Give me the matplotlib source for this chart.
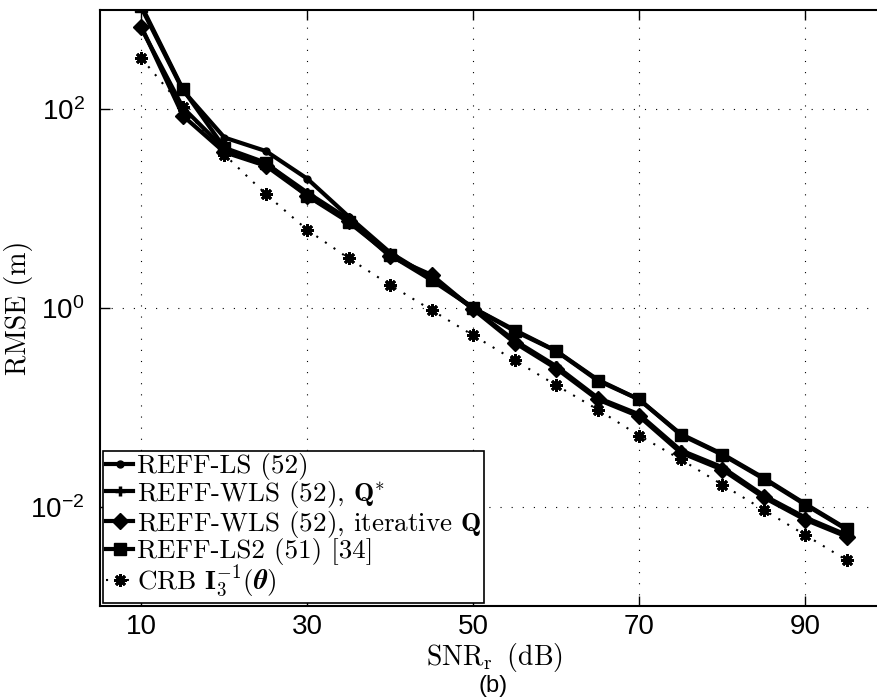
import matplotlib
matplotlib.use("Agg")
import matplotlib.pyplot as plt
from matplotlib.font_manager import FontProperties
from matplotlib.ticker import NullLocator

plt.rcParams['font.family'] = ['Liberation Sans', 'DejaVu Sans']
plt.rcParams['mathtext.fontset'] = 'custom'
plt.rcParams['mathtext.rm'] = 'Liberation Sans'
plt.rcParams['mathtext.it'] = 'Liberation Sans:italic'
plt.rcParams['mathtext.bf'] = 'Liberation Sans:bold'

# ---- data ----
snr = [10, 15, 20, 25, 30, 35, 40, 45, 50, 55, 60, 65, 70, 75, 80, 85, 90, 95]
reff_ls = [1050, 155, 52, 38, 20, 8.3, 3.6, 2.0, 1.0, 0.60, 0.37, 0.19, 0.12,
           0.054, 0.034, 0.0195, 0.0107, 0.0060]
reff_wls_q = [650, 104, 40, 28.5, 14.5, 7.8, 3.5, 2.0, 0.98, 0.47, 0.26, 0.125,
              0.085, 0.037, 0.025, 0.013, 0.0078, 0.0052]
reff_wls_iter = [676, 86, 37, 27, 13.5, 7.6, 3.3, 2.15, 0.97, 0.446, 0.246, 0.12,
                 0.081, 0.035, 0.0236, 0.0124, 0.0074, 0.0050]
reff_ls2 = [1100, 159, 41, 29, 13.4, 7.3, 3.4, 1.9, 1.0, 0.585, 0.368, 0.186,
            0.12, 0.053, 0.0334, 0.0191, 0.0105, 0.0059]
crb = [325, 105, 35, 14, 6.1, 3.16, 1.7, 0.95, 0.53, 0.297, 0.167, 0.095,
       0.052, 0.030, 0.0167, 0.0093, 0.0052, 0.0029]

labels = [r'REFF-LS (52)',
          r'REFF-WLS (52), $\mathbf{Q}^{*}$',
          r'REFF-WLS (52), iterative $\mathbf{Q}$',
          r'REFF-LS2 (51) [34]',
          r'CRB $\mathbf{I}_3^{-1}(\boldsymbol{\theta})$']
xticks = [10, 30, 50, 70, 90]
yticks = [1e-2, 1e0, 1e2]
yticklabels = [r'$10^{-2}$', r'$10^{0}$', r'$10^{2}$']

W, H = 877, 700
fig = plt.figure(figsize=(W / 100, H / 100), dpi=100)
ax = fig.add_axes([100 / W, 94 / H, 788 / W, 596 / H])

lw = 3.0
ax.plot(snr, reff_ls, color='k', lw=lw, marker='o', ms=5, label=labels[0], zorder=3)
ax.plot(snr, reff_wls_q, color='k', lw=lw, marker='+', ms=7, mew=2.5, label=labels[1], zorder=3)
ax.plot(snr, reff_wls_iter, color='k', lw=lw, marker='D', ms=8, label=labels[2], zorder=3)
ax.plot(snr, reff_ls2, color='k', lw=lw, marker='s', ms=8, label=labels[3], zorder=3)
ax.plot(snr, crb, color='k', lw=1.5, ls=(0, (1, 4)), marker=(8, 2, 0), ms=9, mew=2.0,
        label=labels[4], zorder=3)

ax.set_yscale('log')
ax.set_xlim(5, 100)
ax.set_ylim(1e-3, 1e3)
ax.set_xticks(xticks)
ax.set_xticklabels([str(v) for v in xticks])
ax.set_yticks(yticks)
ax.set_yticklabels(yticklabels)
ax.yaxis.set_minor_locator(NullLocator())
ax.xaxis.set_minor_locator(NullLocator())
ax.tick_params(direction='in', length=7, width=1, top=True, right=True,
               labelsize=20)
ax.tick_params(axis='x', pad=6)
ax.tick_params(axis='y', pad=11)
for s in ax.spines.values():
    s.set_linewidth(1.5)
ax.grid(True, which='major', color='k', ls=(0, (1, 9)), lw=0.8)

fp_lab = FontProperties(family='cmr10', size=20, math_fontfamily='cm')
ax.set_ylabel('RMSE (m)', fontproperties=fp_lab)
ax.set_xlabel(r'SNR$_{\mathrm{r}}\;\;$(dB)', fontproperties=fp_lab)
ax.yaxis.set_label_coords(-67 / 788, 0.5)
ax.xaxis.set_label_coords(0.5, -35 / 596)

fp_leg = FontProperties(family='cmr10', size=19.5, math_fontfamily='cm')
leg = ax.legend(loc='lower left', bbox_to_anchor=(0, 0), prop=fp_leg,
                numpoints=1, handlelength=1.0, handletextpad=0.15,
                labelspacing=-0.05, borderpad=0.1, borderaxespad=0.12,
                fancybox=False, framealpha=1, edgecolor='k')
leg.get_frame().set_linewidth(1.2)

fig.text(493 / W, 1 - 686 / H, '(b)', ha='center', va='center', fontsize=17)

fig.savefig('out.png', dpi=100)
